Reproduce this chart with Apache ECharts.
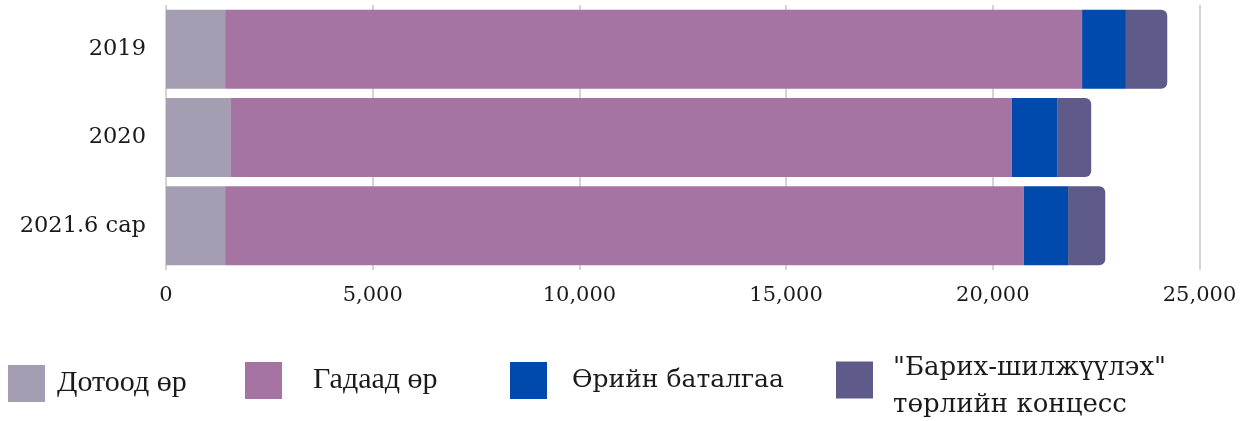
<!DOCTYPE html>
<html>
<head>
<meta charset="utf-8">
<script src="https://cdn.jsdelivr.net/npm/echarts@6/dist/echarts.min.js"></script>
<style>
  html, body { margin: 0; padding: 0; background: #ffffff; }
  #chart { width: 1249px; height: 421px; }
</style>
</head>
<body>
<div id="chart"></div>
<script>
// Categories (top to bottom)
const categories = ['2019', '2020', '2021.6 сар'];

// Series names
const seriesNames = ['Дотоод өр', 'Гадаад өр', 'Өрийн баталгаа', '"Барих-шилжүүлэх"\nтөрлийн концесс'];

// Values per series, one per category
const domesticDebt = [1430, 1570, 1430];
const externalDebt = [20730, 18890, 19320];
const debtGuarantee = [1060, 1110, 1070];
const concessionDebt = [1000, 810, 900];

const colors = ['#a59db1', '#a674a2', '#004aad', '#5e5a8a'];

const axisTicks = { min: 0, max: 25000, interval: 5000 };

const chart = echarts.init(document.getElementById('chart'));

const seriesData = [domesticDebt, externalDebt, debtGuarantee, concessionDebt];

// One legend block per series so each can sit at its own spot
const legendLayout = [
  { left: 8, top: 365, pad: [0, 0, 0, 7], font: 'Liberation Serif', size: 30 },
  { left: 245, top: 362, pad: [0, 0, 0, 26], font: 'Liberation Serif', size: 30 },
  { left: 510, top: 362, pad: [0, 0, 0, 20], font: 'DejaVu Serif', size: 25 },
  { left: 836, top: 336, pad: [0, 0, 0, 15], font: 'DejaVu Serif', size: 26, twoLine: true }
];

const option = {
  animation: false,
  backgroundColor: '#ffffff',
  grid: { left: 166, right: 49.5, top: 5, bottom: 151, containLabel: false },
  xAxis: {
    type: 'value',
    min: axisTicks.min,
    max: axisTicks.max,
    interval: axisTicks.interval,
    axisLine: { show: false },
    axisTick: { show: false },
    splitLine: { show: true, lineStyle: { color: '#d4d4d4', width: 2 } },
    axisLabel: {
      margin: 15,
      color: '#1a1a1a',
      fontFamily: 'DejaVu Serif',
      fontSize: 21,
      formatter: v => v.toLocaleString('en-US')
    }
  },
  yAxis: {
    type: 'category',
    data: categories,
    inverse: true,
    axisLine: { show: false },
    axisTick: { show: false },
    axisLabel: {
      margin: 20,
      color: '#1a1a1a',
      fontFamily: 'DejaVu Serif',
      fontSize: 22.5
    }
  },
  legend: legendLayout.map((l, i) => {
    const base = {
      fontFamily: l.font,
      fontSize: l.size,
      color: '#1a1a1a',
      lineHeight: 37
    };
    const lg = {
      data: [seriesNames[i]],
      left: l.left,
      top: l.top,
      padding: 0,
      icon: 'rect',
      itemWidth: 37,
      itemHeight: 37,
      selectedMode: false,
      textStyle: Object.assign({ padding: l.pad }, base)
    };
    if (l.twoLine) {
      // a short spacer line pushes the two text lines a little below the swatch centre
      lg.formatter = name => '{s| }\n' + name.split('\n').map(t => '{t|' + t + '}').join('\n');
      lg.textStyle.rich = {
        s: { fontSize: 6, lineHeight: 14 },
        t: Object.assign({}, base)
      };
    }
    return lg;
  }),
  series: seriesNames.map((name, i) => ({
    name: name,
    type: 'bar',
    stack: 'debt',
    data: seriesData[i],
    barCategoryGap: '10.6%',
    itemStyle: {
      color: colors[i],
      borderRadius: i === seriesNames.length - 1 ? [0, 6, 6, 0] : 0
    }
  }))
};

chart.setOption(option);
</script>
</body>
</html>
